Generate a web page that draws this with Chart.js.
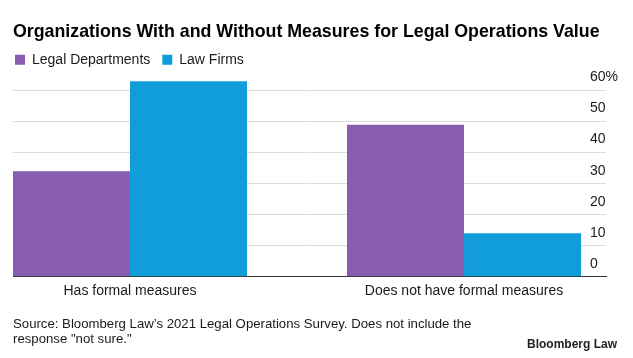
<!DOCTYPE html>
<html>
<head>
<meta charset="utf-8">
<script src="https://cdn.jsdelivr.net/npm/chart.js@4"></script>
<style>
  html, body { margin: 0; padding: 0; background: #fff; }
  #wrap { width: 633px; height: 358px; position: relative; }
</style>
</head>
<body>
<div id="wrap"><canvas id="c" width="633" height="358"></canvas></div>
<script>
const titleText = 'Organizations With and Without Measures for Legal Operations Value';
const categories = ['Has formal measures', 'Does not have formal measures'];
const legalDepartments = [34, 49];
const lawFirms = [63, 14];
const yTicks = [0, 10, 20, 30, 40, 50, 60];
const sourceLines = [
  'Source: Bloomberg Law\u2019s 2021 Legal Operations Survey. Does not include the',
  'response "not sure."'
];
const brandText = 'Bloomberg Law';

const FONT = '"Liberation Sans", Arial, Helvetica, sans-serif';
const TEXT = '#1a1a1a';

const toPoints = arr => arr.map((v, i) => ({ x: i, y: v }));

const legendShift = {
  id: 'legendShift',
  afterLayout(chart) {
    if (chart.legend) {
      chart.legend.left -= 10;
      chart.legend.right -= 10;
    }
  }
};

const brand = {
  id: 'brand',
  afterDraw(chart) {
    const ctx = chart.ctx;
    ctx.save();
    ctx.font = 'bold 12px ' + FONT;
    ctx.fillStyle = '#222';
    ctx.textAlign = 'right';
    ctx.textBaseline = 'alphabetic';
    ctx.fillText(brandText, chart.width - 16, chart.height - 10);
    ctx.restore();
  }
};

new Chart(document.getElementById('c'), {
  type: 'bar',
  data: {
    datasets: [
      { label: 'Legal Departments', data: toPoints(legalDepartments), backgroundColor: '#885cb0' },
      { label: 'Law Firms', data: toPoints(lawFirms), backgroundColor: '#119cda' }
    ]
  },
  plugins: [legendShift, brand],
  options: {
    responsive: false,
    animation: false,
    devicePixelRatio: 1,
    layout: { padding: { left: 13, right: 0, top: 0, bottom: 0 } },
    datasets: { bar: { categoryPercentage: 0.7006, barPercentage: 1, borderWidth: 0 } },
    plugins: {
      title: {
        display: true,
        text: titleText,
        align: 'start',
        color: '#000',
        font: { family: FONT, size: 17.8, weight: 'bold', lineHeight: 1.0 },
        padding: { top: 23, bottom: 0 }
      },
      legend: {
        display: true,
        position: 'top',
        align: 'start',
        labels: {
          boxWidth: 10,
          boxHeight: 10,
          padding: 12,
          color: TEXT,
          font: { family: FONT, size: 14 }
        }
      },
      subtitle: {
        display: true,
        position: 'bottom',
        align: 'start',
        text: sourceLines,
        color: TEXT,
        font: { family: FONT, size: 13.2, lineHeight: 1.1 },
        padding: { top: 11.6, bottom: 11.7 }
      },
      tooltip: { enabled: false }
    },
    scales: {
      x: {
        type: 'linear',
        offset: false,
        min: -0.3503,
        max: 1.4251,
        afterBuildTicks: (scale) => { scale.ticks = categories.map((c, i) => ({ value: i })); },
        grid: { display: false, drawTicks: false, offset: false },
        border: { display: true, color: '#333', width: 1 },
        ticks: {
          autoSkip: false,
          maxRotation: 0,
          padding: 6,
          color: TEXT,
          font: { family: FONT, size: 14 },
          callback: (v) => categories[v]
        }
      },
      y: {
        position: 'right',
        min: 0,
        max: 64.4,
        afterBuildTicks: (scale) => { scale.ticks = yTicks.map(v => ({ value: v })); },
        afterFit: (scale) => { scale.width = 27; },
        grid: { color: '#dcdcdc', lineWidth: 1, drawTicks: false },
        border: { display: false },
        ticks: {
          mirror: true,
          crossAlign: 'far',
          padding: 12,
          labelOffset: -13,
          color: TEXT,
          font: { family: FONT, size: 14 },
          callback: (v) => (v === 60 ? v + '%' : String(v))
        }
      }
    }
  }
});
</script>
</body>
</html>
